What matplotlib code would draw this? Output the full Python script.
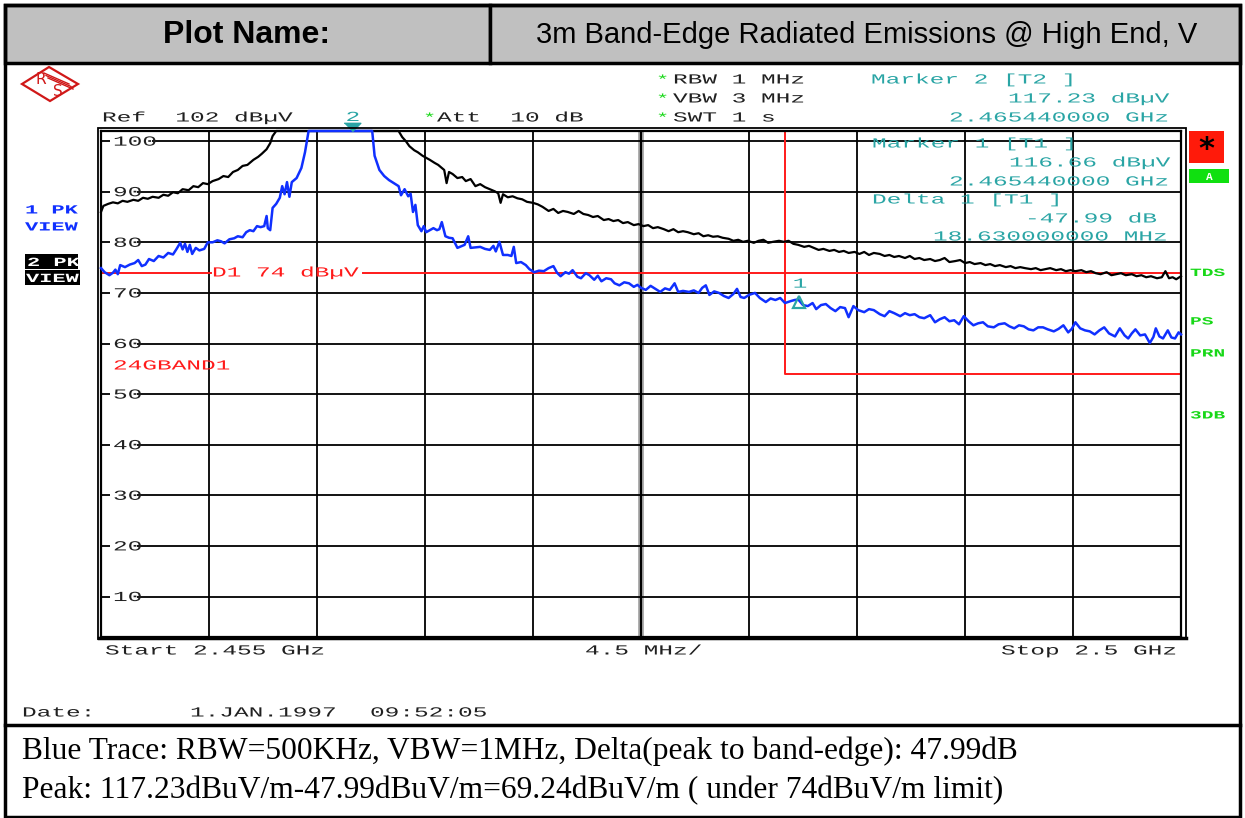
import numpy as np
import matplotlib
matplotlib.use('Agg')
from matplotlib import pyplot as plt
from matplotlib.patches import Rectangle, Polygon
from matplotlib.patheffects import AbstractPathEffect
from matplotlib.transforms import Affine2D, offset_copy

# analyzer settings
f_start = 2455.0      # MHz
f_stop = 2500.0       # MHz
ref_level = 102.0     # dBuV, top of the screen
bottom_level = 2.0
display_line = 74.0   # D1
avg_limit = 54.0
band_edge = 2483.5

marker2_f = 2465.44
marker2_v = 117.23
marker1_f = 2465.44
marker1_v = 116.66
delta_df = 18.63
delta_dv = -47.99

y_grid = [10, 20, 30, 40, 50, 60, 70, 80, 90, 100]

# trace 1 (black, max hold) - MHz / dBuV, screen clips at 102
black_f = [2455.00, 2455.10, 2455.30, 2455.50, 2455.70, 2455.90, 2456.10, 2456.35, 2456.55, 2456.75,
           2456.95, 2457.15, 2457.40, 2457.60, 2457.80, 2458.00, 2458.20, 2458.40, 2458.65, 2458.85,
           2459.05, 2459.25, 2459.45, 2459.65, 2459.90, 2460.10, 2460.30, 2460.50, 2460.70, 2460.90,
           2461.10, 2461.35, 2461.55, 2461.70, 2461.90, 2462.05, 2462.15, 2462.30, 2467.40, 2467.55,
           2467.70, 2467.85, 2468.05, 2468.20, 2468.40, 2468.55, 2468.70, 2468.90, 2469.05, 2469.20,
           2469.30, 2469.40, 2469.50, 2469.65, 2469.85, 2470.05, 2470.20, 2470.40, 2470.60, 2470.80,
           2471.00, 2471.20, 2471.40, 2471.55, 2471.65, 2471.75, 2471.95, 2472.15, 2472.35, 2472.55,
           2472.75, 2473.00, 2473.20, 2473.40, 2473.65, 2473.85, 2474.05, 2474.25, 2474.45, 2474.70,
           2474.90, 2475.10, 2475.30, 2475.50, 2475.70, 2475.95, 2476.15, 2476.35, 2476.55, 2476.75,
           2476.95, 2477.20, 2477.40, 2477.60, 2477.80, 2478.00, 2478.20, 2478.45, 2478.65, 2478.85,
           2479.05, 2479.25, 2479.45, 2479.70, 2479.90, 2480.10, 2480.30, 2480.50, 2480.70, 2480.90,
           2481.15, 2481.35, 2481.55, 2481.75, 2481.95, 2482.20, 2482.40, 2482.60, 2482.80, 2483.00,
           2483.25, 2483.45, 2483.65, 2483.85, 2484.05, 2484.30, 2484.50, 2484.70, 2484.90, 2485.10,
           2485.35, 2485.55, 2485.75, 2485.95, 2486.15, 2486.40, 2486.60, 2486.80, 2487.00, 2487.20,
           2487.45, 2487.65, 2487.85, 2488.05, 2488.25, 2488.50, 2488.70, 2488.90, 2489.10, 2489.30,
           2489.55, 2489.75, 2489.95, 2490.15, 2490.35, 2490.60, 2490.80, 2491.00, 2491.20, 2491.40,
           2491.65, 2491.85, 2492.05, 2492.25, 2492.45, 2492.70, 2492.90, 2493.10, 2493.30, 2493.50,
           2493.75, 2493.95, 2494.15, 2494.35, 2494.55, 2494.80, 2495.00, 2495.20, 2495.40, 2495.60,
           2495.85, 2496.05, 2496.25, 2496.45, 2496.65, 2496.90, 2497.10, 2497.30, 2497.50, 2497.70,
           2497.95, 2498.15, 2498.35, 2498.55, 2498.75, 2499.00, 2499.20, 2499.35, 2499.50, 2499.65,
           2499.80, 2500.00]
black_v = [86.0, 87.2, 87.6, 87.9, 87.7, 88.2, 88.0, 88.4, 88.2, 88.8,
           88.6, 89.0, 88.8, 89.4, 89.2, 89.9, 89.7, 90.5, 90.3, 91.1,
           90.9, 91.7, 91.5, 92.1, 92.5, 93.1, 92.9, 93.9, 94.3, 95.1,
           95.3, 96.3, 96.9, 97.5, 98.4, 99.6, 101.0, 102.0, 102.0, 100.8,
           100.0, 99.0, 98.2, 97.8, 97.1, 96.7, 96.3, 95.7, 95.3, 94.7,
           94.3, 91.7, 93.9, 93.5, 92.7, 92.9, 92.1, 92.5, 91.1, 91.5,
           90.9, 90.5, 90.1, 89.7, 87.8, 89.5, 88.9, 89.1, 88.7, 88.5,
           88.0, 87.8, 87.5, 87.0, 86.2, 86.6, 85.8, 86.2, 86.0, 85.6,
           86.2, 85.6, 85.4, 85.0, 85.2, 84.4, 84.6, 84.2, 84.4, 83.8,
           84.0, 83.4, 83.6, 83.2, 83.4, 82.8, 83.0, 82.6, 82.2, 82.6,
           82.0, 82.2, 82.0, 81.6, 81.8, 81.2, 81.4, 81.1, 81.2, 80.9,
           80.7, 80.3, 80.5, 80.1, 80.3, 79.9, 80.3, 80.5, 79.9, 80.1,
           80.3, 80.1, 80.3, 79.7, 79.5, 79.1, 79.3, 78.9, 78.5, 78.7,
           78.3, 78.5, 78.1, 78.3, 77.9, 78.1, 77.7, 78.1, 77.5, 77.9,
           77.7, 77.3, 77.5, 77.1, 77.3, 76.9, 77.3, 76.7, 76.9, 76.5,
           76.7, 76.3, 76.5, 76.9, 76.1, 76.3, 76.5, 75.9, 76.1, 75.7,
           75.9, 75.5, 75.7, 75.3, 75.5, 75.1, 75.3, 74.9, 75.1, 74.9,
           74.7, 74.9, 74.5, 74.7, 74.9, 74.5, 74.7, 74.3, 74.5, 74.3,
           74.5, 74.1, 74.3, 73.9, 73.7, 74.1, 73.5, 73.7, 73.9, 73.5,
           73.7, 73.3, 73.5, 73.1, 73.3, 72.9, 73.1, 74.3, 72.9, 73.1,
           72.7, 73.3]

# trace 2 (blue, RBW 500 kHz)
blue_f = [2455.00, 2455.15, 2455.35, 2455.50, 2455.60, 2455.70, 2455.80, 2456.00, 2456.20, 2456.40,
          2456.55, 2456.70, 2456.85, 2457.00, 2457.20, 2457.40, 2457.60, 2457.80, 2458.00, 2458.15,
          2458.30, 2458.40, 2458.50, 2458.60, 2458.70, 2458.80, 2458.95, 2459.10, 2459.30, 2459.45,
          2459.65, 2459.85, 2460.00, 2460.15, 2460.35, 2460.55, 2460.70, 2460.90, 2461.05, 2461.20,
          2461.35, 2461.50, 2461.65, 2461.80, 2461.90, 2461.95, 2462.05, 2462.15, 2462.30, 2462.45,
          2462.55, 2462.65, 2462.75, 2462.85, 2462.95, 2463.15, 2463.35, 2463.50, 2463.65, 2466.30,
          2466.40, 2466.60, 2466.80, 2467.00, 2467.20, 2467.40, 2467.50, 2467.65, 2467.80, 2467.90,
          2468.00, 2468.10, 2468.20, 2468.35, 2468.45, 2468.55, 2468.70, 2468.85, 2469.00, 2469.10,
          2469.20, 2469.35, 2469.50, 2469.65, 2469.85, 2470.00, 2470.15, 2470.30, 2470.40, 2470.60,
          2470.80, 2471.00, 2471.20, 2471.35, 2471.45, 2471.60, 2471.75, 2471.95, 2472.10, 2472.20,
          2472.30, 2472.50, 2472.70, 2472.85, 2473.05, 2473.25, 2473.45, 2473.65, 2473.85, 2474.00,
          2474.15, 2474.35, 2474.50, 2474.65, 2474.85, 2475.00, 2475.20, 2475.35, 2475.55, 2475.70,
          2475.85, 2476.05, 2476.25, 2476.40, 2476.60, 2476.80, 2477.00, 2477.20, 2477.35, 2477.50,
          2477.70, 2477.90, 2478.10, 2478.30, 2478.50, 2478.70, 2478.90, 2479.05, 2479.25, 2479.50,
          2479.70, 2479.90, 2480.05, 2480.20, 2480.35, 2480.55, 2480.75, 2480.95, 2481.15, 2481.35,
          2481.50, 2481.65, 2481.80, 2482.00, 2482.25, 2482.45, 2482.70, 2482.90, 2483.10, 2483.30,
          2483.50, 2483.75, 2483.90, 2484.05, 2484.25, 2484.45, 2484.65, 2484.80, 2485.00, 2485.20,
          2485.40, 2485.60, 2485.80, 2486.00, 2486.15, 2486.35, 2486.55, 2486.80, 2487.00, 2487.20,
          2487.45, 2487.65, 2487.85, 2488.05, 2488.30, 2488.50, 2488.70, 2488.90, 2489.10, 2489.30,
          2489.55, 2489.75, 2489.95, 2490.15, 2490.35, 2490.55, 2490.75, 2490.95, 2491.15, 2491.35,
          2491.55, 2491.75, 2491.95, 2492.20, 2492.40, 2492.65, 2492.85, 2493.05, 2493.25, 2493.45,
          2493.65, 2493.85, 2494.05, 2494.25, 2494.45, 2494.70, 2494.90, 2495.10, 2495.30, 2495.45,
          2495.60, 2495.80, 2496.00, 2496.20, 2496.40, 2496.60, 2496.80, 2497.00, 2497.25, 2497.45,
          2497.65, 2497.80, 2497.95, 2498.10, 2498.30, 2498.50, 2498.70, 2498.85, 2498.95, 2499.10,
          2499.25, 2499.45, 2499.60, 2499.75, 2499.90, 2500.00]
blue_v = [74.9, 74.1, 73.5, 74.0, 74.6, 73.7, 75.5, 75.1, 75.6, 75.9,
          76.5, 75.3, 75.6, 76.7, 76.3, 77.3, 77.0, 77.9, 77.6, 78.7,
          79.9, 78.6, 79.7, 78.1, 79.5, 77.7, 78.9, 78.4, 78.7, 80.0,
          80.0, 80.4, 80.2, 79.8, 80.6, 80.8, 81.2, 81.0, 82.0, 82.4,
          82.2, 83.2, 83.0, 83.2, 85.2, 82.8, 82.4, 86.8, 87.6, 88.8,
          91.1, 89.5, 91.9, 89.0, 91.9, 92.7, 94.7, 97.8, 102.0, 102.0,
          97.1, 94.3, 93.1, 92.3, 91.7, 91.1, 89.3, 90.5, 89.1, 89.6,
          86.0, 87.4, 83.4, 82.2, 83.2, 82.0, 82.4, 82.8, 82.4, 82.6,
          84.0, 81.2, 80.9, 80.8, 78.9, 79.2, 79.5, 81.2, 78.9, 79.0,
          79.1, 78.7, 78.5, 79.3, 78.2, 80.1, 77.5, 77.5, 77.3, 79.1,
          75.9, 76.1, 75.5, 74.7, 74.1, 74.4, 74.3, 74.9, 75.3, 74.0,
          73.3, 74.1, 73.8, 74.5, 73.2, 72.9, 73.9, 73.5, 72.6, 73.4,
          72.3, 72.9, 72.7, 71.9, 71.5, 72.1, 71.9, 71.2, 71.6, 71.0,
          70.6, 71.4, 70.8, 70.2, 70.9, 70.6, 71.9, 70.2, 70.4, 70.2,
          70.5, 70.0, 71.0, 71.5, 69.6, 70.3, 70.0, 69.4, 69.0, 69.8,
          70.8, 69.2, 69.0, 69.6, 70.0, 69.0, 68.2, 68.9, 68.6, 69.0,
          68.0, 68.4, 68.6, 68.7, 67.6, 67.4, 68.0, 66.8, 67.6, 67.8,
          67.0, 66.4, 67.2, 67.0, 65.2, 67.4, 66.6, 66.2, 66.8, 66.6,
          65.8, 65.4, 66.4, 66.0, 65.4, 66.0, 65.6, 65.8, 65.2, 65.0,
          65.6, 64.2, 64.8, 65.2, 64.4, 64.6, 63.8, 65.4, 64.4, 63.6,
          64.0, 64.2, 63.4, 63.2, 63.8, 64.0, 63.4, 63.0, 63.6, 63.4,
          62.8, 62.6, 63.2, 63.2, 62.8, 62.4, 62.9, 63.6, 62.2, 62.9,
          64.2, 63.0, 62.6, 62.4, 61.8, 62.6, 63.2, 62.0, 61.4, 63.0,
          61.6, 61.0, 62.0, 62.8, 61.6, 61.8, 60.1, 61.3, 63.0, 61.4,
          61.0, 62.6, 61.2, 61.0, 62.2, 61.8]

TEAL = '#2aa5a5'
GREEN = '#18d818'
RED = '#ff1a1a'
BLUE = '#1030ff'
INK = '#202020'
MONO = ['Liberation Mono', 'DejaVu Sans Mono']


class Wide(AbstractPathEffect):
    # the analyzer font is a wide bitmap font, so stretch glyphs sideways
    def __init__(self, sx=1.76):
        super().__init__()
        self.sx = sx

    def draw_path(self, renderer, gc, tpath, affine, rgbFace=None):
        renderer.draw_path(gc, tpath, Affine2D().scale(self.sx, 1.0) + affine, rgbFace)


fig = plt.figure(figsize=(12.45, 8.18), dpi=100)
fig.patch.set_facecolor('white')

# pixel overlay for the page furniture
ov = fig.add_axes([0, 0, 1, 1], zorder=3)
ov.set_xlim(0, 1245)
ov.set_ylim(818, 0)
ov.axis('off')


def scr(x, y, s, color=INK, size=10, weight='normal', axis=None, **kw):
    axis = ov if axis is None else axis
    return axis.text(x, y, s, color=color, fontsize=size, family=MONO, fontweight=weight,
                     ha='left', va='baseline', path_effects=[Wide()], **kw)


# screen axes
ax = fig.add_axes([101 / 1245, (818 - 637) / 818, 1080 / 1245, 506 / 818], zorder=2)
ax.set_xlim(f_start, f_stop)
ax.set_ylim(bottom_level, ref_level)
div = (f_stop - f_start) / 10
ax.set_xticks([f_start + i * div for i in range(11)])
ax.set_yticks(y_grid)
ax.tick_params(length=0, labelbottom=False, labelleft=False)
ax.grid(True, color='black', lw=1.3)
for sp in ax.spines.values():
    sp.set_linewidth(1.6)
ax.axvline(f_start + 5 * div, color='#9a9a9a', lw=4, zorder=1.4)
ax.axvline(f_start + 5 * div, color='black', lw=1.3, zorder=1.6)

# level labels sitting on the grid lines
ytr = ax.get_yaxis_transform()
lab_tr = offset_copy(ytr, fig=fig, x=0, y=-4.5, units='dots')
for v in y_grid:
    s = str(v)
    ax.add_patch(Rectangle((9 / 1080, v - 1.2), (len(s) * 14.67 - 2) / 1080, 2.4,
                           transform=ytr, facecolor='white', edgecolor='none', zorder=1.8))
    scr(12 / 1080, v, s, axis=ax, transform=lab_tr, zorder=5)

# traces
ax.plot(black_f, black_v, color='black', lw=1.6, zorder=3, clip_on=False)
ax.plot(blue_f, blue_v, color=BLUE, lw=1.8, zorder=3.2, clip_on=False)

# display line D1, broken around its label
gap0 = f_start + (211 - 101) / 1080 * (f_stop - f_start)
gap1 = f_start + (363 - 101) / 1080 * (f_stop - f_start)
ax.plot([f_start, gap0], [display_line, display_line], color=RED, lw=1.4, zorder=2.5, clip_on=False)
ax.plot([gap1, f_stop], [display_line, display_line], color=RED, lw=1.4, zorder=2.5, clip_on=False)
scr(212, 276.5, 'D1 %d dBµV' % display_line, color=RED)

# band-edge limit line
ax.plot([band_edge, band_edge, f_stop], [ref_level, avg_limit, avg_limit],
        color=RED, lw=1.4, zorder=2.5, clip_on=False)
scr(113, 369.5, '24GBAND1', color=RED)

# markers
tri_down = [(-1, 0.5), (1, 0.5), (0, -0.5)]
ax.plot([marker2_f], [ref_level], marker=tri_down, ms=12, color=TEAL, ls='none',
        clip_on=False, zorder=6, transform=offset_copy(ax.transData, fig=fig, y=4.5, units='dots'))
ax.annotate('2', (marker2_f, ref_level), xytext=(-6, 10), textcoords='offset pixels',
            color=TEAL, fontsize=10, family=MONO, ha='left', va='baseline',
            path_effects=[Wide()], annotation_clip=False)
d_f = marker1_f + delta_df
d_v = marker1_v + delta_dv
ax.plot([d_f], [d_v], marker='^', ms=8, mfc='none', mec=TEAL, mew=1.6, ls='none', zorder=6,
        transform=offset_copy(ax.transData, fig=fig, y=-2, units='dots'))
ax.annotate('1', (d_f, d_v), xytext=(-6, 12), textcoords='offset pixels',
            color=TEAL, fontsize=10, family=MONO, ha='left', va='baseline',
            path_effects=[Wide()])

# double frame around the screen
ov.add_patch(Rectangle((98, 128), 1088, 511, fill=False, edgecolor='black', lw=1.3))
ov.plot([99, 1186], [638, 638], color='black', lw=2.5)

# page frame and header
ov.add_patch(Rectangle((5, 5), 485, 58, facecolor='#c0c0c0', edgecolor='black', lw=2.5))
ov.add_patch(Rectangle((490, 5), 750, 58, facecolor='#c0c0c0', edgecolor='black', lw=2.5))
ov.add_patch(Rectangle((5, 5), 1235, 812, fill=False, edgecolor='black', lw=2.5))
ov.plot([5, 1240], [725, 725], color='black', lw=2.5)
ov.text(247, 35, 'Plot Name:', fontsize=23, fontweight='bold', family=['Liberation Sans'],
        ha='center', va='center')
ov.text(867, 35, '3m Band-Edge Radiated Emissions @ High End, V', fontsize=21,
        family=['Liberation Sans'], ha='center', va='center')

# R&S logo
ov.add_patch(Polygon([(22, 84), (49, 67), (78, 84), (50, 101)], closed=True, fill=False,
                     edgecolor='#d01818', lw=1.6))
for k in range(3):
    ov.plot([44 + 2 * k, 69 + 2 * k], [73 + 2.5 * k, 84 + 2.5 * k], color='#d01818', lw=1)
ov.text(41, 79, 'R', color='#d01818', fontsize=11, family=['DejaVu Sans'], ha='center', va='center')
ov.text(58, 91, 'S', color='#d01818', fontsize=11, family=['DejaVu Sans'], ha='center', va='center')

# instrument readouts
scr(102, 121.5, 'Ref  %d dBµV' % ref_level)
scr(423, 121.5, '*', color=GREEN, size=9)
scr(437, 121.5, 'Att  10 dB')
for yb, s in [(83.5, 'RBW 1 MHz'), (102.5, 'VBW 3 MHz'), (121.5, 'SWT 1 s')]:
    scr(656, yb, '*', color=GREEN, size=9)
    scr(673, yb, s)

scr(871, 83.5, 'Marker 2 [T2 ]', color=TEAL)
scr(1008, 102.5, '%.2f dBµV' % marker2_v, color=TEAL)
scr(949, 121.5, '%.9f GHz' % (marker2_f / 1000), color=TEAL)
scr(872, 147.5, 'Marker 1 [T1 ]', color=TEAL)
scr(1009, 166.5, '%.2f dBµV' % marker1_v, color=TEAL)
scr(949, 185.5, '%.9f GHz' % (marker1_f / 1000), color=TEAL)
scr(872, 203.5, 'Delta 1 [T1 ]', color=TEAL)
scr(1025, 222.5, '%.2f dB' % delta_dv, color=TEAL)
scr(933, 240.5, '%.9f MHz' % delta_df, color=TEAL)

scr(25, 213.5, '1 PK', color=BLUE, size=9, weight='bold')
scr(25, 230.5, 'VIEW', color=BLUE, size=9, weight='bold')
ov.add_patch(Rectangle((25, 254), 53, 15, facecolor='black', edgecolor='none'))
ov.add_patch(Rectangle((25, 270), 55, 15, facecolor='black', edgecolor='none'))
scr(27, 266, '2 PK', color='white', size=9, weight='bold')
scr(26, 282, 'VIEW', color='white', size=9, weight='bold')

ov.add_patch(Rectangle((1189, 131), 35, 32, facecolor='#ff1a0a', edgecolor='none'))
ov.text(1206, 150, '*', fontsize=22, fontweight='bold', ha='center', va='center', color='black')
ov.add_patch(Rectangle((1189, 169), 40, 14, facecolor='#10e010', edgecolor='none'))
ov.text(1209, 176.5, 'A', fontsize=8, fontweight='bold', family=MONO, ha='center', va='center',
        color='white')
for yb, s in [(276, 'TDS'), (324.5, 'PS'), (356.5, 'PRN'), (418.5, '3DB')]:
    scr(1190, yb, s, color=GREEN, size=8, weight='bold')

scr(105, 654.5, 'Start %.3f GHz' % (f_start / 1000))
scr(585, 654.5, '%.1f MHz/' % div)
scr(1001, 654.5, 'Stop %g GHz' % (f_stop / 1000))
scr(22, 716.5, 'Date:')
scr(190, 716.5, '1.JAN.1997')
scr(370, 716.5, '09:52:05')

# test notes under the screen shot
SERIF = ['Liberation Serif', 'DejaVu Serif']
ov.text(22, 751, 'Blue Trace: RBW=500KHz, VBW=1MHz, Delta(peak to band-edge): 47.99dB',
        fontsize=22.7, family=SERIF, ha='left', va='center')
ov.text(22, 791, 'Peak: 117.23dBuV/m-47.99dBuV/m=69.24dBuV/m ( under 74dBuV/m limit)',
        fontsize=22.7, family=SERIF, ha='left', va='center')

fig.savefig('out.png', dpi=100)
